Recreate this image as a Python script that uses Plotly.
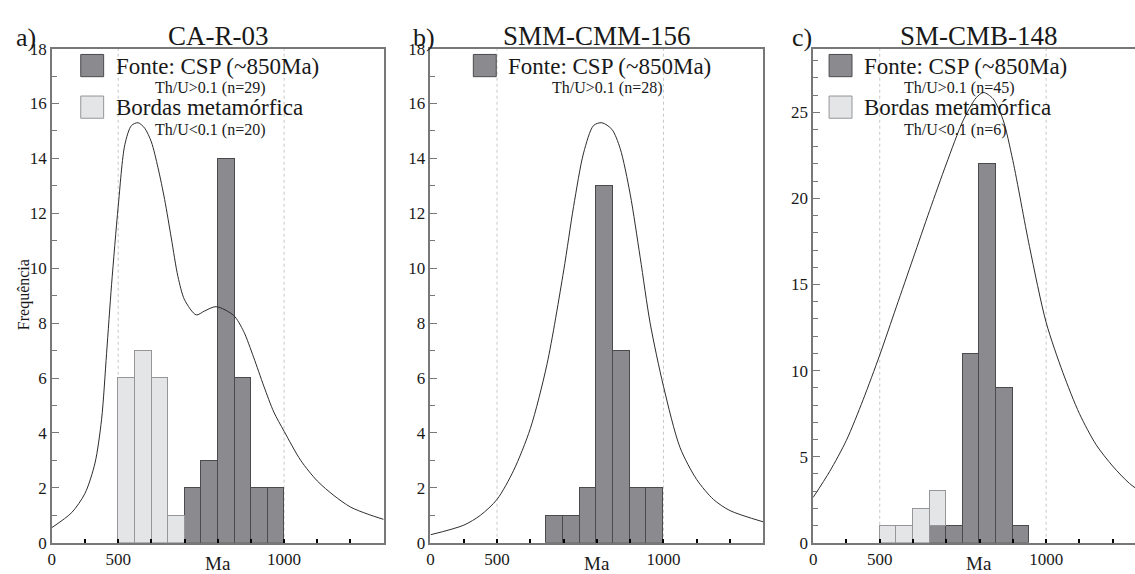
import plotly.graph_objects as go

# ---- data -----------------------------------------------------------------
bin_centers = [525, 575, 625, 675, 725, 775, 825, 875, 925, 975]  # 50 Ma bins, 500-1000 Ma

# CA-R-03
a_csp = [0, 0, 0, 0, 2, 3, 14, 6, 2, 2]          # Th/U>0.1 (n=29)
a_borda = [6, 7, 6, 1, 0, 0, 0, 0, 0, 0]         # Th/U<0.1 (n=20)
a_curve_x = [300, 360, 400, 430, 450, 465, 480, 500, 520, 540, 560, 580, 600, 620, 640, 660,
             680, 700, 735, 760, 795, 848, 878, 908, 939, 969, 1000, 1050, 1100, 1150, 1200, 1250, 1300]
a_curve_y = [0.55, 1.1, 1.8, 2.9, 4.5, 6.9, 9.4, 12.25, 14.5, 15.2, 15.3, 15.1, 14.6, 13.66, 12.5, 11.1,
             9.7, 8.85, 8.3, 8.44, 8.6, 8.28, 7.7, 6.76, 5.7, 4.76, 4.06, 3.0, 2.25, 1.72, 1.3, 1.05, 0.85]

# SMM-CMM-156
b_csp = [0, 0, 0, 1, 1, 2, 13, 7, 2, 2]          # Th/U>0.1 (n=28)
b_curve_x = [300, 400, 450, 500, 550, 600, 650, 700, 730, 760, 790, 815, 845, 870, 900, 930,
             960, 1000, 1050, 1100, 1150, 1200, 1300]
b_curve_y = [0.29, 0.64, 1.0, 1.58, 2.64, 4.16, 6.5, 9.9, 12.25, 14.2, 15.2, 15.3, 15.06, 14.36, 12.7, 10.4,
             8.0, 5.7, 3.46, 2.3, 1.58, 1.17, 0.76]

# SM-CMB-148
c_csp = [0, 0, 0, 1, 1, 11, 22, 9, 1, 0]         # Th/U>0.1 (n=45)
c_borda = [1, 1, 2, 2, 0, 0, 0, 0, 0, 0]         # Th/U<0.1 (n=6)
c_curve_x = [300, 350, 400, 450, 500, 550, 600, 650, 700, 750, 790, 812, 840, 870, 900, 950,
             1000, 1050, 1100, 1150, 1200, 1250, 1300]
c_curve_y = [2.63, 4.15, 5.95, 8.3, 10.9, 13.7, 16.5, 19.3, 22.0, 24.5, 25.85, 26.15, 25.8, 24.6, 22.2, 17.2,
             12.8, 9.9, 7.5, 5.7, 4.45, 3.45, 2.75]

x_tickvals = [300, 400, 500, 600, 700, 800, 900, 1000, 1100, 1200]
x_ticktext = ["0", "", "500", "", "", "", "", "1000", "", ""]

titles = ["CA-R-03", "SMM-CMM-156", "SM-CMB-148"]
panel_tags = ["a)", "b)", "c)"]

# ---- style ----------------------------------------------------------------
W, H = 1135, 574
FONT = "Liberation Serif, Times New Roman, serif"
DARK_FILL = "rgb(139,139,143)"
DARK_EDGE = "rgb(75,75,78)"
LIGHT_FILL = "rgb(228,229,231)"
LIGHT_EDGE = "rgb(150,150,152)"
AXIS_COL = "rgb(120,120,120)"
TXT = "rgb(25,25,25)"


def px(x):
    return x / W


def py(y):
    return 1 - y / H


def nonzero(vals):
    # empty bins are left undrawn instead of showing a flat outline on the axis
    return [v if v else None for v in vals]


fig = go.Figure()

panels = [
    dict(csp=a_csp, borda=a_borda, cx=a_curve_x, cy=a_curve_y, ax="", dom=(48, 381), xr=[300, 1300],
         yr=[0, 18], dtick=2, mirror_y=True),
    dict(csp=b_csp, borda=None, cx=b_curve_x, cy=b_curve_y, ax="2", dom=(428, 762), xr=[300, 1300],
         yr=[0, 18], dtick=2, mirror_y=True),
    dict(csp=c_csp, borda=c_borda, cx=c_curve_x, cy=c_curve_y, ax="3", dom=(812, 1135), xr=[300, 1267],
         yr=[0, 28.7], dtick=5, mirror_y=False),
]

ydom = [py(552), py(41)]

for p in panels:
    xa, ya = "x" + p["ax"], "y" + p["ax"]
    fig.add_trace(go.Bar(x=bin_centers, y=nonzero(p["csp"]), width=50, xaxis=xa, yaxis=ya,
                         marker=dict(color=DARK_FILL, line=dict(color=DARK_EDGE, width=1)),
                         showlegend=False))
    if p["borda"] is not None:
        fig.add_trace(go.Bar(x=bin_centers, y=nonzero(p["borda"]), width=50, xaxis=xa, yaxis=ya,
                             marker=dict(color=LIGHT_FILL, line=dict(color=LIGHT_EDGE, width=1)),
                             showlegend=False))
    fig.add_trace(go.Scatter(x=p["cx"], y=p["cy"], mode="lines", xaxis=xa, yaxis=ya,
                             line=dict(color="rgb(45,45,45)", width=1, shape="spline", smoothing=0.8),
                             showlegend=False, cliponaxis=True))

    xkey = "xaxis" + p["ax"]
    ykey = "yaxis" + p["ax"]
    fig.layout[xkey] = dict(
        domain=[px(p["dom"][0]), px(p["dom"][1])], range=p["xr"], anchor=ya,
        showgrid=False, zeroline=False, showline=True, linecolor=AXIS_COL, linewidth=1.5,
        mirror=True, ticks="inside", ticklen=4, tickwidth=2, tickcolor="black",
        tickvals=x_tickvals, ticktext=x_ticktext,
        tickfont=dict(family=FONT, size=17, color=TXT), fixedrange=True)
    fig.layout[ykey] = dict(
        domain=ydom, range=p["yr"], anchor=xa,
        showgrid=False, zeroline=False, showline=True, linecolor=AXIS_COL, linewidth=1.5,
        mirror=p["mirror_y"], ticks="inside", ticklen=7, tickwidth=1.2, tickcolor=AXIS_COL,
        dtick=p["dtick"], tick0=0,
        minor=dict(dtick=1, ticks="inside", ticklen=5, tickwidth=1, tickcolor=AXIS_COL),
        tickfont=dict(family=FONT, size=17, color=TXT), fixedrange=True)

    # dotted reference lines at 500 and 1000 Ma
    for xv in (500, 1000):
        fig.add_shape(type="line", xref=xa, yref=ya + " domain", x0=xv, x1=xv, y0=0, y1=1,
                      line=dict(color="rgb(185,185,185)", width=0.8, dash="dot"), layer="below")

# ---- titles, panel tags, axis labels --------------------------------------
title_cx = [215, 595, 978]
tag_cx = [22, 421, 801]
for t, tag, cx, tx in zip(titles, panel_tags, title_cx, tag_cx):
    fig.add_annotation(text=t, x=px(cx), y=py(28), xref="paper", yref="paper", showarrow=False,
                       xanchor="center", yanchor="middle", font=dict(family=FONT, size=27, color=TXT))
    fig.add_annotation(text=tag, x=px(tx), y=py(29), xref="paper", yref="paper", showarrow=False,
                       xanchor="center", yanchor="middle", font=dict(family=FONT, size=26, color=TXT))
    fig.add_annotation(text="Ma", x=px(cx), y=py(561), xref="paper", yref="paper", showarrow=False,
                       xanchor="center", yanchor="top", font=dict(family=FONT, size=19, color=TXT))

fig.add_annotation(text="Frequência", x=px(20), y=py(295), xref="paper", yref="paper", showarrow=False,
                   textangle=-90, xanchor="center", yanchor="middle",
                   font=dict(family=FONT, size=16, color=TXT))

# ---- legend boxes ---------------------------------------------------------
def legend_item(x_sq, y_top, fill, edge, label, sub, x_sub):
    fig.add_shape(type="rect", xref="paper", yref="paper",
                  x0=px(x_sq), x1=px(x_sq + 23), y0=py(y_top + 23), y1=py(y_top),
                  fillcolor=fill, line=dict(color=edge, width=1))
    fig.add_annotation(text=label, x=px(x_sq + 33), y=py(y_top + 12), xref="paper", yref="paper",
                       showarrow=False, xanchor="left", yanchor="middle",
                       font=dict(family=FONT, size=23, color=TXT))
    fig.add_annotation(text=sub, x=px(x_sub), y=py(y_top + 35), xref="paper", yref="paper",
                       showarrow=False, xanchor="center", yanchor="middle",
                       font=dict(family=FONT, size=16, color=TXT))


legend_item(77, 47, DARK_FILL, DARK_EDGE, "Fonte: CSP (~850Ma)", "Th/U&gt;0.1 (n=29)", 207)
legend_item(77, 90, LIGHT_FILL, LIGHT_EDGE, "Bordas metamórfica", "Th/U&lt;0.1 (n=20)", 207)
legend_item(471, 47, DARK_FILL, DARK_EDGE, "Fonte: CSP (~850Ma)", "Th/U&gt;0.1 (n=28)", 605)
legend_item(828, 47, DARK_FILL, DARK_EDGE, "Fonte: CSP (~850Ma)", "Th/U&gt;0.1 (n=45)", 958)
legend_item(828, 90, LIGHT_FILL, LIGHT_EDGE, "Bordas metamórfica", "Th/U&lt;0.1 (n=6)", 954)

fig.update_layout(
    width=W, height=H, margin=dict(l=0, r=0, t=0, b=0),
    barmode="stack", bargap=0,
    paper_bgcolor="white", plot_bgcolor="white",
    font=dict(family=FONT, color=TXT),
    showlegend=False,
)

fig.write_html("out.html", config={"displayModeBar": False})
